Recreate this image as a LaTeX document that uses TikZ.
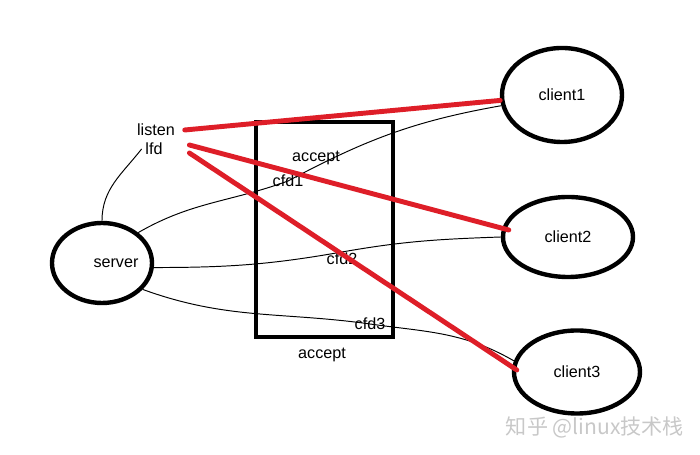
\documentclass[tikz,border=0pt]{standalone}
\usepackage{fontspec}
\setmainfont{Liberation Sans}
\newfontfamily\cjkfont{Noto Sans CJK SC}
\usetikzlibrary{shapes.geometric}
\definecolor{penred}{RGB}{222,30,40}
\definecolor{markgray}{RGB}{200,200,200}

\begin{document}
\begin{tikzpicture}[
  hostnode/.style={draw,ellipse,line width=2.5pt,inner sep=0pt,
    font=\fontsize{9.2}{11}\selectfont},
  tag/.style={font=\fontsize{9.2}{11}\selectfont,inner sep=2pt},
  wire/.style={draw,line width=0.55pt},
  fdline/.style={draw=penred,line width=2.8pt,line cap=round}
]
  \useasboundingbox (0,0) rectangle (14,9.1);

  % accept box
  \node[draw,line width=2.6pt,minimum width=2.74cm,minimum height=4.3cm,inner sep=0pt]
    (acceptbox) at (6.49,4.51) {};
  \node[tag] (accepttop) at (6.32,5.94) {accept};
  \node[tag] (acceptbot) at (6.44,2.0) {accept};

  % server side
  \node[hostnode,minimum width=2.0cm,minimum height=1.6cm] (server) at (2.04,3.84) {};
  \node[tag] (serverlbl) at (2.32,3.84) {server};
  \node[tag] (listen) at (3.12,6.5) {listen};
  \node[tag] (lfd) at (3.08,6.12) {lfd};

  % clients
  \node[hostnode,minimum width=2.4cm,minimum height=1.88cm] (client1) at (11.24,7.2) {client1};
  \node[hostnode,minimum width=2.6cm,minimum height=1.6cm] (client2) at (11.36,4.36) {client2};
  \node[hostnode,minimum width=2.52cm,minimum height=1.66cm] (client3) at (11.54,1.66) {client3};

  % connected fds
  \node[tag] (cfd1) at (5.76,5.48) {cfd1};
  \node[tag] (cfd2) at (6.84,3.92) {cfd2};
  \node[tag] (cfd3) at (7.4,2.62) {cfd3};

  % thin wires
  \draw[wire] (lfd.west) to[out=232,in=90] (server.north);
  \draw[wire] (server.40) to[out=30,in=200] (cfd1.center) to[out=28,in=190] (client1.190);
  \draw[wire] (server.355) to[out=0,in=190] ([yshift=0.14cm]cfd2.center)
    to[out=10,in=182] (client2.180);
  \draw[wire] (server.327) to[out=-20,in=172] (cfd3.center) to[out=-8,in=150] (client3.170);

  % listening socket to clients
  \draw[fdline] ([xshift=0.12cm]listen.east) -- (client1.185);
  \draw[fdline] ([xshift=0.46cm,yshift=0.08cm]lfd.east) -- ([xshift=0.16cm,yshift=0.14cm]client2.west);
  \draw[fdline] ([xshift=0.46cm,yshift=-0.08cm]lfd.east) -- ([xshift=0.1cm,yshift=0.04cm]client3.west);

  % watermark
  \node[font=\cjkfont\fontsize{12}{14}\selectfont,text=markgray] (mark) at (11.9,0.56)
    {知乎 @linux技术栈};
\end{tikzpicture}
\end{document}
